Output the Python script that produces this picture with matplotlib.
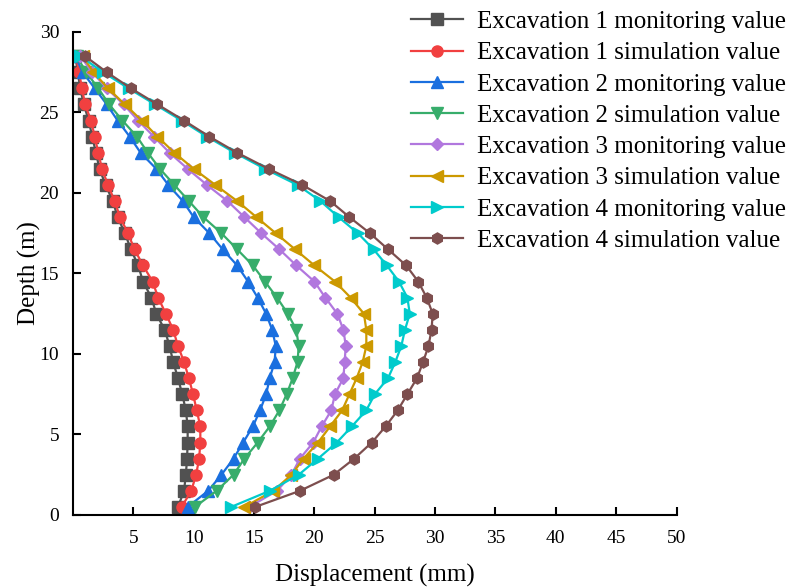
import matplotlib.pyplot as plt

plt.rcParams['font.family'] = ['Liberation Serif', 'DejaVu Serif']

# depth of each measuring point (m)
depth = [0.5, 1.5, 2.5, 3.5, 4.5, 5.5, 6.5, 7.5, 8.5, 9.5,
         10.5, 11.5, 12.5, 13.5, 14.5, 15.5, 16.5, 17.5, 18.5, 19.5,
         20.5, 21.5, 22.5, 23.5, 24.5, 25.5, 26.5, 27.5, 28.5]

# displacement (mm), bottom to top
exc1_mon = [8.7, 9.2, 9.35, 9.45, 9.5, 9.5, 9.35, 9.05, 8.7, 8.3,
            8.0, 7.6, 6.9, 6.5, 5.8, 5.4, 4.8, 4.3, 3.7, 3.3,
            2.7, 2.2, 1.9, 1.6, 1.3, 0.9, 0.6, 0.4, 0.2]
exc1_sim = [9.0, 9.8, 10.2, 10.45, 10.55, 10.55, 10.25, 9.95, 9.6, 9.2,
            8.7, 8.3, 7.7, 7.05, 6.6, 5.8, 5.1, 4.55, 3.9, 3.45,
            2.9, 2.4, 2.1, 1.8, 1.5, 1.0, 0.75, 0.5, 0.25]
exc2_mon = [9.5, 11.2, 12.3, 13.3, 14.1, 14.9, 15.5, 16.0, 16.3, 16.7,
            16.8, 16.5, 16.0, 15.3, 14.5, 13.6, 12.4, 11.3, 10.0, 9.1,
            7.9, 6.9, 5.6, 4.7, 3.7, 2.8, 1.8, 0.8, 0.2]
exc2_sim = [10.1, 11.9, 13.3, 14.2, 15.3, 16.3, 17.1, 17.7, 18.2, 18.6,
            18.7, 18.5, 17.8, 16.9, 15.9, 14.9, 13.6, 12.3, 10.8, 9.6,
            8.4, 7.2, 6.2, 5.3, 4.1, 3.0, 2.1, 1.1, 0.3]
exc3_mon = [14.6, 16.9, 18.1, 18.8, 19.9, 20.6, 21.4, 21.7, 22.4, 22.5,
            22.6, 22.4, 21.9, 20.9, 20.0, 18.5, 17.1, 15.6, 14.2, 12.8,
            11.1, 9.5, 8.0, 6.7, 5.4, 4.2, 2.8, 1.6, 0.6]
exc3_sim = [14.2, 16.6, 18.1, 19.1, 20.3, 21.3, 22.3, 22.9, 23.5, 24.0,
            24.3, 24.3, 24.1, 23.0, 21.7, 20.0, 18.4, 16.8, 15.2, 13.6,
            11.8, 10.0, 8.4, 7.0, 5.7, 4.3, 2.9, 1.7, 0.8]
exc4_mon = [13.1, 16.3, 18.7, 20.3, 21.85, 23.1, 24.3, 25.0, 26.1, 26.7,
            27.2, 27.5, 27.9, 27.7, 27.0, 26.0, 24.9, 23.6, 22.0, 20.5,
            18.6, 15.9, 13.4, 11.1, 9.0, 6.8, 4.6, 2.5, 0.6]
exc4_sim = [15.1, 18.8, 21.6, 23.3, 24.75, 25.9, 26.9, 27.7, 28.5, 29.0,
            29.45, 29.7, 29.8, 29.3, 28.6, 27.6, 26.1, 24.6, 22.9, 21.3,
            19.0, 16.2, 13.6, 11.3, 9.2, 7.0, 4.8, 2.8, 1.0]

series = [
    (exc1_mon, 'Excavation 1 monitoring value', '#515151', 's'),
    (exc1_sim, 'Excavation 1 simulation value', '#F14040', 'o'),
    (exc2_mon, 'Excavation 2 monitoring value', '#1A6FDF', '^'),
    (exc2_sim, 'Excavation 2 simulation value', '#37AD6B', 'v'),
    (exc3_mon, 'Excavation 3 monitoring value', '#B177DE', 'D'),
    (exc3_sim, 'Excavation 3 simulation value', '#CC9900', '<'),
    (exc4_mon, 'Excavation 4 monitoring value', '#00CBCC', '>'),
    (exc4_sim, 'Excavation 4 simulation value', '#7D4E4E', 'h'),
]

fig = plt.figure(figsize=(7.88, 5.87), dpi=100)
ax = fig.add_axes([0.0926, 0.1227, 0.766, 0.8228])

for vals, label, color, marker in series:
    ms = 6.5 if marker == 'D' else 8
    ax.plot(vals, depth, color=color, marker=marker, ms=ms, lw=1.6,
            label=label)

ax.set_xlim(0, 50)
ax.set_ylim(0, 30)
ax.set_xticks([5, 10, 15, 20, 25, 30, 35, 40, 45, 50])
ax.set_yticks([0, 5, 10, 15, 20, 25, 30])
ax.tick_params(direction='in', length=6, width=1.5, labelsize=14)
ax.tick_params(axis='x', pad=11)
ax.tick_params(axis='y', pad=10)
for side in ['top', 'right']:
    ax.spines[side].set_visible(False)
for side in ['left', 'bottom']:
    ax.spines[side].set_linewidth(1.5)

ax.set_xlabel('Displacement (mm)', fontsize=18, labelpad=12)
ax.set_ylabel('Depth (m)', fontsize=18, labelpad=-1)

fig.legend(loc='upper left', bbox_to_anchor=(0.521, 0.982), frameon=False,
           fontsize=18, handlelength=2.08, handletextpad=0.56,
           labelspacing=0.35, borderpad=0, borderaxespad=0)

fig.savefig('out.png', dpi=100)
